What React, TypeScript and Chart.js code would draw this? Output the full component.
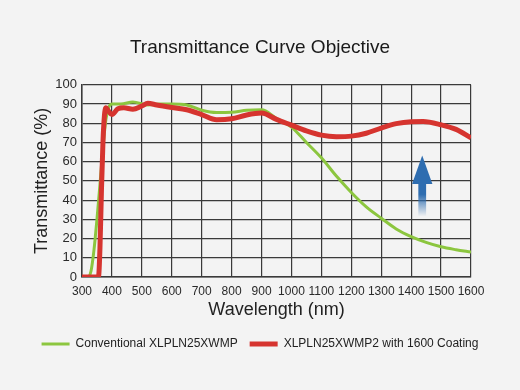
import { useEffect, useRef } from "react";
import { Chart, registerables } from "chart.js";

Chart.register(...registerables);

// ---- data ----
const chartTitle = "Transmittance Curve Objective";
const xAxisTitle = "Wavelength (nm)";
const yAxisTitle = "Transmittance (%)";
const seriesNames = ["Conventional XLPLN25XWMP", "XLPLN25XWMP2 with 1600 Coating"];

const conventionalNm = [300, 320, 330, 340, 350, 360, 370, 380, 390, 400, 430, 470, 520, 560, 600, 650, 700, 750, 800, 850, 900, 950, 1000, 1050, 1100, 1150, 1200, 1250, 1300, 1350, 1400, 1450, 1500, 1550, 1600];
const conventionalPct = [0, 0, 3, 14, 30, 48, 67, 82, 88.5, 90, 90, 91, 89.5, 90, 90, 89.5, 86.8, 85.6, 85.7, 86.7, 87, 82.5, 78, 70, 62, 52.5, 44, 36.5, 30.6, 25, 21, 18, 15.7, 14.2, 13];

const coatedNm = [300, 355, 360, 365, 370, 375, 380, 390, 400, 420, 440, 470, 500, 520, 550, 600, 650, 700, 750, 800, 850, 900, 950, 1000, 1050, 1100, 1150, 1200, 1250, 1300, 1350, 1400, 1440, 1500, 1550, 1600];
const coatedPct = [0, 0, 15, 45, 70, 84, 88, 86, 84.5, 87.5, 88, 87.3, 89, 90.4, 89.5, 88.2, 87, 84.5, 81.8, 82.3, 84.3, 85.3, 82, 79, 76, 73.8, 73, 73.3, 74.8, 77.5, 79.8, 80.8, 80.9, 79.2, 76.8, 72.4];

// arrow annotation (data units)
const arrowNm = 1437;
const arrowTailPct = 31.5;
const arrowFadePct = 43;
const arrowHeadBasePct = 48.4;
const arrowTipPct = 63.2;
const arrowHeadHalfNm = 34;
const arrowShaftHalfNm = 13;

const GREEN = "#8cc63f";
const RED = "#d6342f";
const BLUE = "#2e6db0";
const GRID = "#3a3a3a";
const BG = "#f3f3f3";
const SANS = "'Liberation Sans', Arial, sans-serif";

const arrowPlugin = {
  id: "arrowPlugin",
  afterDatasetsDraw(chart: any) {
    const { ctx, scales } = chart;
    const xs = scales.x;
    const ys = scales.y;
    const cx = xs.getPixelForValue(arrowNm);
    const headHalf = xs.getPixelForValue(arrowNm + arrowHeadHalfNm) - cx;
    const shaftHalf = xs.getPixelForValue(arrowNm + arrowShaftHalfNm) - cx;
    const tipY = ys.getPixelForValue(arrowTipPct);
    const baseY = ys.getPixelForValue(arrowHeadBasePct);
    const fadeY = ys.getPixelForValue(arrowFadePct);
    const tailY = ys.getPixelForValue(arrowTailPct);
    ctx.save();
    ctx.fillStyle = BLUE;
    ctx.beginPath();
    ctx.moveTo(cx, tipY);
    ctx.lineTo(cx + headHalf, baseY);
    ctx.lineTo(cx - headHalf, baseY);
    ctx.closePath();
    ctx.fill();
    const g = ctx.createLinearGradient(0, baseY, 0, tailY);
    const f = (fadeY - baseY) / (tailY - baseY);
    g.addColorStop(0, "rgba(46,109,176,1)");
    g.addColorStop(Math.max(0, Math.min(1, f)), "rgba(46,109,176,1)");
    g.addColorStop(1, "rgba(46,109,176,0)");
    ctx.fillStyle = g;
    ctx.fillRect(cx - shaftHalf, baseY - 0.5, shaftHalf * 2, tailY - baseY + 0.5);
    ctx.restore();
  },
};

const bgPlugin = {
  id: "bgPlugin",
  beforeDraw(chart: any) {
    const { ctx, width, height } = chart;
    ctx.save();
    ctx.fillStyle = BG;
    ctx.fillRect(0, 0, width, height);
    ctx.restore();
  },
};

export default function App() {
  const ref = useRef<HTMLCanvasElement | null>(null);
  useEffect(() => {
    if (!ref.current) return;
    const chart = new Chart(ref.current, {
      type: "line",
      data: {
        datasets: [
          {
            label: seriesNames[0],
            data: conventionalNm.map((x, i) => ({ x, y: conventionalPct[i] })),
            borderColor: GREEN,
            backgroundColor: GREEN,
            borderWidth: 3,
            pointRadius: 0,
            cubicInterpolationMode: "monotone",
            order: 2,
          },
          {
            label: seriesNames[1],
            data: coatedNm.map((x, i) => ({ x, y: coatedPct[i] })),
            borderColor: RED,
            backgroundColor: RED,
            borderWidth: 5,
            pointRadius: 0,
            cubicInterpolationMode: "monotone",
            order: 1,
          },
        ],
      },
      options: {
        animation: false,
        responsive: true,
        maintainAspectRatio: false,
        layout: { padding: { left: 0, right: 0, top: 0, bottom: 30 } },
        plugins: {
          title: {
            display: true,
            text: chartTitle,
            color: "#1a1a1a",
            font: { family: SANS, size: 19, weight: "normal" },
            padding: { top: 36, bottom: 26 },
          },
          legend: {
            position: "bottom",
            labels: {
              usePointStyle: true,
              pointStyle: "line",
              pointStyleWidth: 28,
              color: "#222",
              font: { family: SANS, size: 12 },
              padding: 12,
              sort: (a: any, b: any) => a.datasetIndex - b.datasetIndex,
            },
          },
          tooltip: { enabled: false },
        },
        scales: {
          x: {
            type: "linear",
            min: 300,
            max: 1600,
            afterFit: (s: any) => { s.height = 49; },
            ticks: {
              stepSize: 100,
              color: "#2a2a2a",
              padding: 7,
              font: { family: SANS, size: 12 },
              maxRotation: 0,
              autoSkip: false,
              callback: (v: any) => String(v),
            },
            grid: { color: GRID, lineWidth: 1.2, drawTicks: false },
            border: { display: true, color: GRID, width: 1.5 },
            title: { display: true, text: xAxisTitle, color: "#222", font: { family: SANS, size: 18 }, padding: { top: 0, bottom: 5 } },
          },
          y: {
            type: "linear",
            min: 0,
            max: 100,
            afterFit: (s: any) => { s.width = 82; },
            ticks: { stepSize: 10, color: "#2a2a2a", padding: 5, autoSkip: false, font: { family: SANS, size: 13 } },
            grid: { color: GRID, lineWidth: 1.2, drawTicks: false },
            border: { display: true, color: GRID, width: 1.5 },
            title: { display: true, text: yAxisTitle, color: "#222", font: { family: SANS, size: 18 }, padding: { top: 31, bottom: 0 } },
          },
          yRight: {
            type: "linear",
            position: "right",
            display: true,
            afterFit: (s: any) => { s.width = 49; },
            ticks: { display: false },
            grid: { display: false, drawTicks: false },
            border: { display: false },
          },
        },
      },
      plugins: [bgPlugin, arrowPlugin],
    } as any);
    return () => chart.destroy();
  }, []);
  return (
    <div style={{ position: "fixed", left: 0, top: 0, width: 520, height: 390, background: BG }}>
      <canvas ref={ref} />
    </div>
  );
}
